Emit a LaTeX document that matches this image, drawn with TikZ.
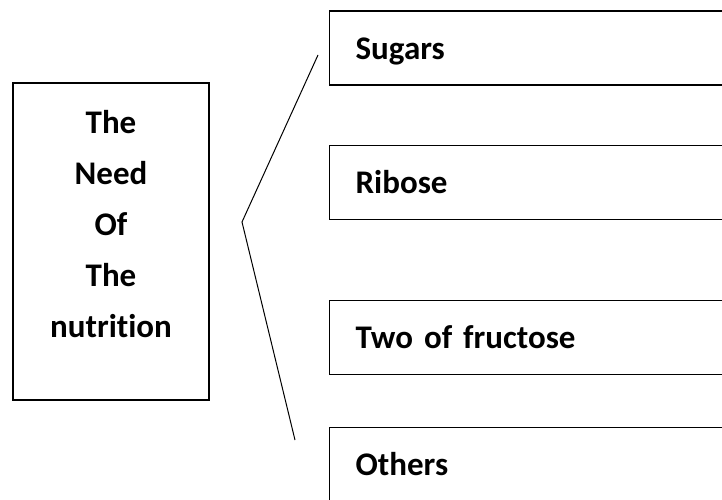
\documentclass[tikz,border=0pt]{standalone}
\usepackage{fontspec}
\setmainfont{Carlito}[Ligatures=NoCommon]
\usepackage{tikz}
\usetikzlibrary{positioning}

\begin{document}
\begin{tikzpicture}[
    x=1pt,y=-1pt,
    font=\fontsize{33}{51}\selectfont\bfseries,
    needbox/.style={draw,line width=1.3pt,minimum width=196pt,
      minimum height=317pt,inner sep=0pt},
    needtext/.style={align=center,inner sep=0pt},
    itembox/.style={draw,line width=1.2pt,anchor=north west,
      minimum width=420pt,minimum height=74pt,inner xsep=26pt,
      text width=368pt,align=left,text height=29pt,text depth=7pt}
  ]
    \useasboundingbox (0,0) rectangle (722,500);
    \clip (0,0) rectangle (722,500);
    % the topic on the left
    \node[needbox] (needbox) at (111,241.5) {};
    \node[needtext,anchor=north,below=28pt of needbox.north] (needtext)
      {The\\Need\\Of\\The\\nutrition};
    % the four items on the right
    \foreach \name/\ytop/\txt in {sugars/10.5/Sugars,ribose/145/Ribose,
        fructose/300/Two of fructose,others/427/Others} {
      \node[itembox] (\name) at (329,\ytop) {\txt};
    }
    % the bracket between them
    \coordinate (brtop) at (318,55);
    \coordinate (brmid) at (242,222);
    \coordinate (brbot) at (295,440);
    \draw[line width=1pt] (brtop) -- (brmid) -- (brbot);
  \end{tikzpicture}
\end{document}
